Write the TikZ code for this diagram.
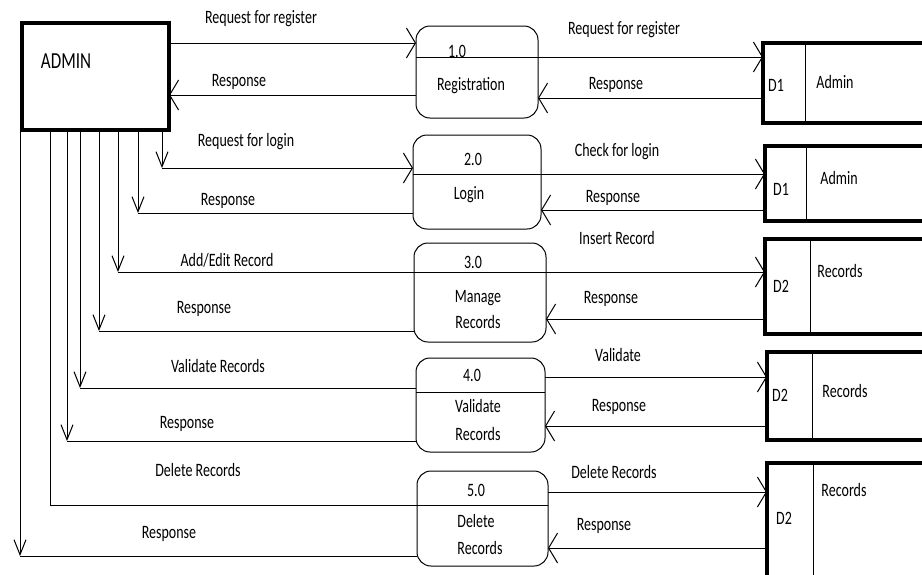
\documentclass[tikz,border=0pt]{standalone}
\usepackage{fontspec}
\setmainfont{Carlito}
\usepackage{graphicx}
\usetikzlibrary{arrows.meta}

\newcommand{\lbl}[1]{\scalebox{1}[1.35]{\strut #1}}

\begin{document}
\begin{tikzpicture}[
  x=1pt, y=-1pt,
  txt/.style={inner sep=0pt, yshift=-1.5pt, font=\fontsize{14}{17}\selectfont},
  entity/.style={
    draw=black, line width=3.5pt,
    outer sep=0pt, inner sep=0pt
  },
  proc/.style={
    draw=black, line width=1pt, rounded corners=14pt,
    outer sep=0pt, inner sep=0pt
  },
  store/.style={draw=none, outer sep=0pt, inner sep=0pt},
  storeedge/.style={line width=3.5pt},
  storesplit/.style={line width=1pt},
  line/.style={line width=1pt},
  flow/.style={-{Straight Barb[length=9pt, width=30pt]}, line width=1pt},
  dflow/.style={-{Straight Barb[length=15pt, width=12pt]}, line width=1pt},
]
  \useasboundingbox (0,0) rectangle (922,574);

  \node[entity, minimum width=147, minimum height=107] (admin) at (95.5,76.5) {};
  \node[txt, font=\fontsize{17}{20}\selectfont] (admintxt) at (66,62) {\lbl{ADMIN}};

  \node[proc, minimum width=122, minimum height=92] (p1) at (477,72) {};
  \node[proc, minimum width=128, minimum height=94] (p2) at (477,182) {};
  \node[proc, minimum width=132, minimum height=99] (p3) at (480,292.5) {};
  \node[proc, minimum width=129, minimum height=94] (p4) at (480.5,405) {};
  \node[proc, minimum width=131, minimum height=95] (p5) at (482.5,518.5) {};

  \node[store, minimum width=159, minimum height=80] (s1) at (842.5,83) {};
  \node[store, minimum width=157, minimum height=75] (s2) at (843.5,183.5) {};
  \node[store, minimum width=157, minimum height=95] (s3) at (843.5,286.5) {};
  \node[store, minimum width=155, minimum height=88] (s4) at (844.5,396) {};
  \node[store, minimum width=155, minimum height=127] (s5) at (844.5,526.5) {};

  \foreach \i in {1,...,4} {
    \draw[storeedge] (s\i.north east) -- (s\i.north west)
      -- (s\i.south west) -- (s\i.south east);
  }
  \draw[storeedge] (s5.north east) -- (s5.north west) -- (s5.south west);
  \foreach \i/\d in {1/42, 2/41, 3/45, 4/45, 5/46} {
    \draw[storesplit] ([xshift=\d pt]s\i.north west) -- ([xshift=\d pt]s\i.south west);
  }

  \foreach \i/\yd/\yo/\yi in {1/57/57/98, 2/174/174/210, 3/272/272/319,
                              4/392/377/426, 5/505/492/548} {
    \coordinate (d\i) at (0,\yd);
    \coordinate (o\i) at (0,\yo);
    \coordinate (r\i) at (0,\yi);
    \draw[line] (p\i.west |- d\i) -- (p\i.east |- d\i);
    \draw[flow] (p\i.east |- o\i) -- (s\i.west |- o\i);
    \draw[flow] (s\i.west |- r\i) -- (p\i.east |- r\i);
  }

  \coordinate (a1) at (0,43);
  \coordinate (a2) at (0,95);
  \draw[flow] (admin.east |- a1) -- (p1.west |- a1);
  \draw[flow] (p1.west |- a2) -- (admin.east |- a2);

  \coordinate (c2a) at (162,168);
  \coordinate (c2b) at (138,213);
  \coordinate (c3a) at (118,272);
  \coordinate (c3b) at (99,331);
  \coordinate (c4a) at (80,388);
  \coordinate (c4b) at (67,441);
  \coordinate (c5a) at (50,505);
  \coordinate (c5b) at (20,556);

  \foreach \c in {c2a,c2b,c3a,c3b,c4a,c4b,c5b} {
    \draw[dflow] (admin.south -| \c) -- (\c);
  }
  \draw[line] (admin.south -| c5a) -- (c5a);
  \draw[flow] (c2a) -- (p2.west |- c2a);
  \foreach \c/\p in {c2b/p2, c3a/p3, c3b/p3, c4a/p4, c4b/p4, c5a/p5, c5b/p5} {
    \draw[line] (\c) -- (\p.west |- \c);
  }

  \node[txt] (reqreg) at (261,17) {\lbl{Request for register}};
  \node[txt] (resp1) at (239,80) {\lbl{Response}};
  \node[txt] (reqlog) at (246,140) {\lbl{Request for login}};
  \node[txt] (resp2) at (228,199) {\lbl{Response}};
  \node[txt] (addedit) at (227,260) {\lbl{Add/Edit Record}};
  \node[txt] (resp3) at (204,307) {\lbl{Response}};
  \node[txt] (valrec) at (218,366) {\lbl{Validate Records}};
  \node[txt] (resp4) at (187,422) {\lbl{Response}};
  \node[txt] (delrec) at (198,470) {\lbl{Delete Records}};
  \node[txt] (resp5) at (169,532) {\lbl{Response}};

  \node[txt] (regout) at (624,28) {\lbl{Request for register}};
  \node[txt] (regin) at (616,83) {\lbl{Response}};
  \node[txt] (chklog) at (617,150) {\lbl{Check for login}};
  \node[txt] (login) at (613,196) {\lbl{Response}};
  \node[txt] (insrec) at (617,238) {\lbl{Insert Record}};
  \node[txt] (insin) at (611,297) {\lbl{Response}};
  \node[txt] (valout) at (618,355) {\lbl{Validate}};
  \node[txt] (valin) at (619,405) {\lbl{Response}};
  \node[txt] (delout) at (614,472) {\lbl{Delete Records}};
  \node[txt] (delin) at (604,524) {\lbl{Response}};

  \node[txt] (p1num) at (457,51) {\lbl{1.0}};
  \node[txt] (p1name) at (471,84) {\lbl{Registration}};
  \node[txt] (p2num) at (473,159) {\lbl{2.0}};
  \node[txt] (p2name) at (469,193) {\lbl{Login}};
  \node[txt] (p3num) at (473,262) {\lbl{3.0}};
  \node[txt] (p3a) at (478,296) {\lbl{Manage}};
  \node[txt] (p3b) at (478,322) {\lbl{Records}};
  \node[txt] (p4num) at (472,375) {\lbl{4.0}};
  \node[txt] (p4a) at (478,406) {\lbl{Validate}};
  \node[txt] (p4b) at (478,434) {\lbl{Records}};
  \node[txt] (p5num) at (476,490) {\lbl{5.0}};
  \node[txt] (p5a) at (476,521) {\lbl{Delete}};
  \node[txt] (p5b) at (480,548) {\lbl{Records}};

  \node[txt] (s1id) at (776,85) {\lbl{D1}};
  \node[txt] (s1name) at (835,82) {\lbl{Admin}};
  \node[txt] (s2id) at (781,189) {\lbl{D1}};
  \node[txt] (s2name) at (839,178) {\lbl{Admin}};
  \node[txt] (s3id) at (781,286) {\lbl{D2}};
  \node[txt] (s3name) at (840,271) {\lbl{Records}};
  \node[txt] (s4id) at (780,395) {\lbl{D2}};
  \node[txt] (s4name) at (845,391) {\lbl{Records}};
  \node[txt] (s5id) at (784,518) {\lbl{D2}};
  \node[txt] (s5name) at (844,490) {\lbl{Records}};
\end{tikzpicture}
\end{document}
